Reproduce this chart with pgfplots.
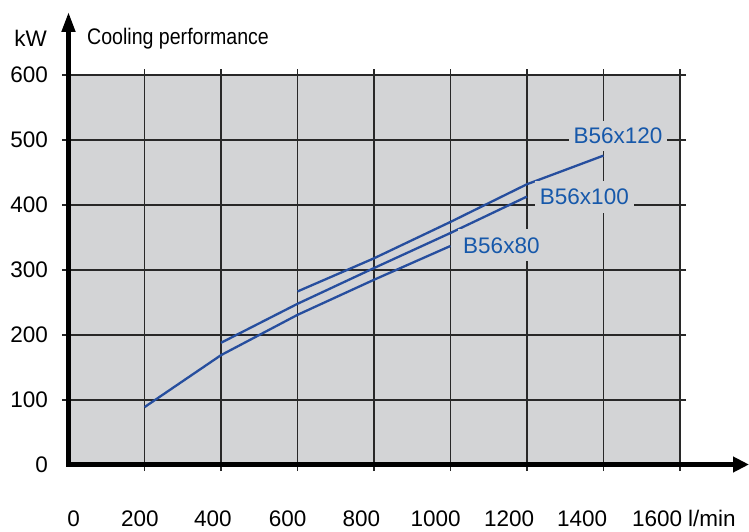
\documentclass[border=0pt]{standalone}
\usepackage{pgfplots}
\pgfplotsset{compat=1.18}
\usepackage{fontspec}
\usepackage{graphicx}
\setmainfont{Liberation Sans}
\usetikzlibrary{arrows.meta}
\definecolor{bggray}{RGB}{211,212,214}
\definecolor{gridc}{RGB}{40,40,40}
\definecolor{curve}{RGB}{38,78,158}
\definecolor{labc}{RGB}{22,88,170}
\begin{document}
\fontsize{22.5}{26}\selectfont
\begin{tikzpicture}[x=1pt,y=1pt]
\useasboundingbox (0,0) rectangle (749,531);
\begin{axis}[
  at={(68pt,66pt)}, anchor=south west,
  scale only axis, width=612pt, height=390pt,
  xmin=0, xmax=1600, ymin=0, ymax=600,
  axis background/.style={fill=bggray},
  axis line style={gridc, line width=1.3pt},
  xtick={200,400,...,1600}, ytick={100,200,...,600},
  xticklabels={}, yticklabels={},
  tick align=outside, major tick length=6pt,
  xtick pos=both, ytick pos=both,
  tick style={gridc, line width=1.3pt},
  grid=major, grid style={gridc, line width=1.3pt},
  clip=false,
]
\addplot[curve, line width=2.3pt] coordinates {(200,89) (400,169) (600,231) (800,285) (1000,337)};
\addplot[curve, line width=2.3pt] coordinates {(400,188) (600,248) (800,303) (1000,357) (1200,413)};
\addplot[curve, line width=2.3pt] coordinates {(600,267) (800,318) (1000,374) (1200,432) (1400,476)};
\node[fill=bggray, text=labc, inner xsep=5pt, inner ysep=7pt] at (axis cs:1438,506) {B56x120};
\node[fill=bggray, text=labc, inner xsep=5pt, inner ysep=8pt] at (axis cs:1350,412) {B56x100};
\node[fill=bggray, text=labc, inner xsep=5pt, inner ysep=8pt] at (axis cs:1133,338) {B56x80};
\end{axis}
\begin{axis}[
  at={(68pt,66pt)}, anchor=south west,
  scale only axis, width=612pt, height=390pt,
  xmin=0, xmax=1600, ymin=0, ymax=600,
  axis line style={draw=none}, tick style={draw=none},
  major tick length=0pt,
  xtick={14.4,188,379,574,767,961,1153,1344,1540},
  xticklabels={0,200,400,600,800,1000,1200,1400,1600},
  ytick={0,100,...,600},
  /pgf/number format/assume math mode=true,
  xticklabel style={anchor=center, inner sep=0pt, yshift=-54pt, font=\fontsize{22.5}{26}\selectfont},
  yticklabel style={anchor=east, inner sep=0pt, xshift=-20pt, font=\fontsize{22.5}{26}\selectfont},
]
\end{axis}
\draw[line width=4.5pt, -{Triangle[length=20pt,width=13pt]}] (68.5,64.25) -- (68.5,519);
\draw[line width=4.5pt, -{Triangle[length=16pt,width=15pt]}] (66.25,66.5) -- (749,66.5);
\node[anchor=base, inner sep=0pt] at (30.5,484) {kW};
\node[anchor=base west, inner sep=0pt] at (87,486) {\scalebox{0.87}[1]{Cooling performance}};
\node[anchor=base west, inner sep=0pt] at (688,5) {l/min};
\end{tikzpicture}
\end{document}
